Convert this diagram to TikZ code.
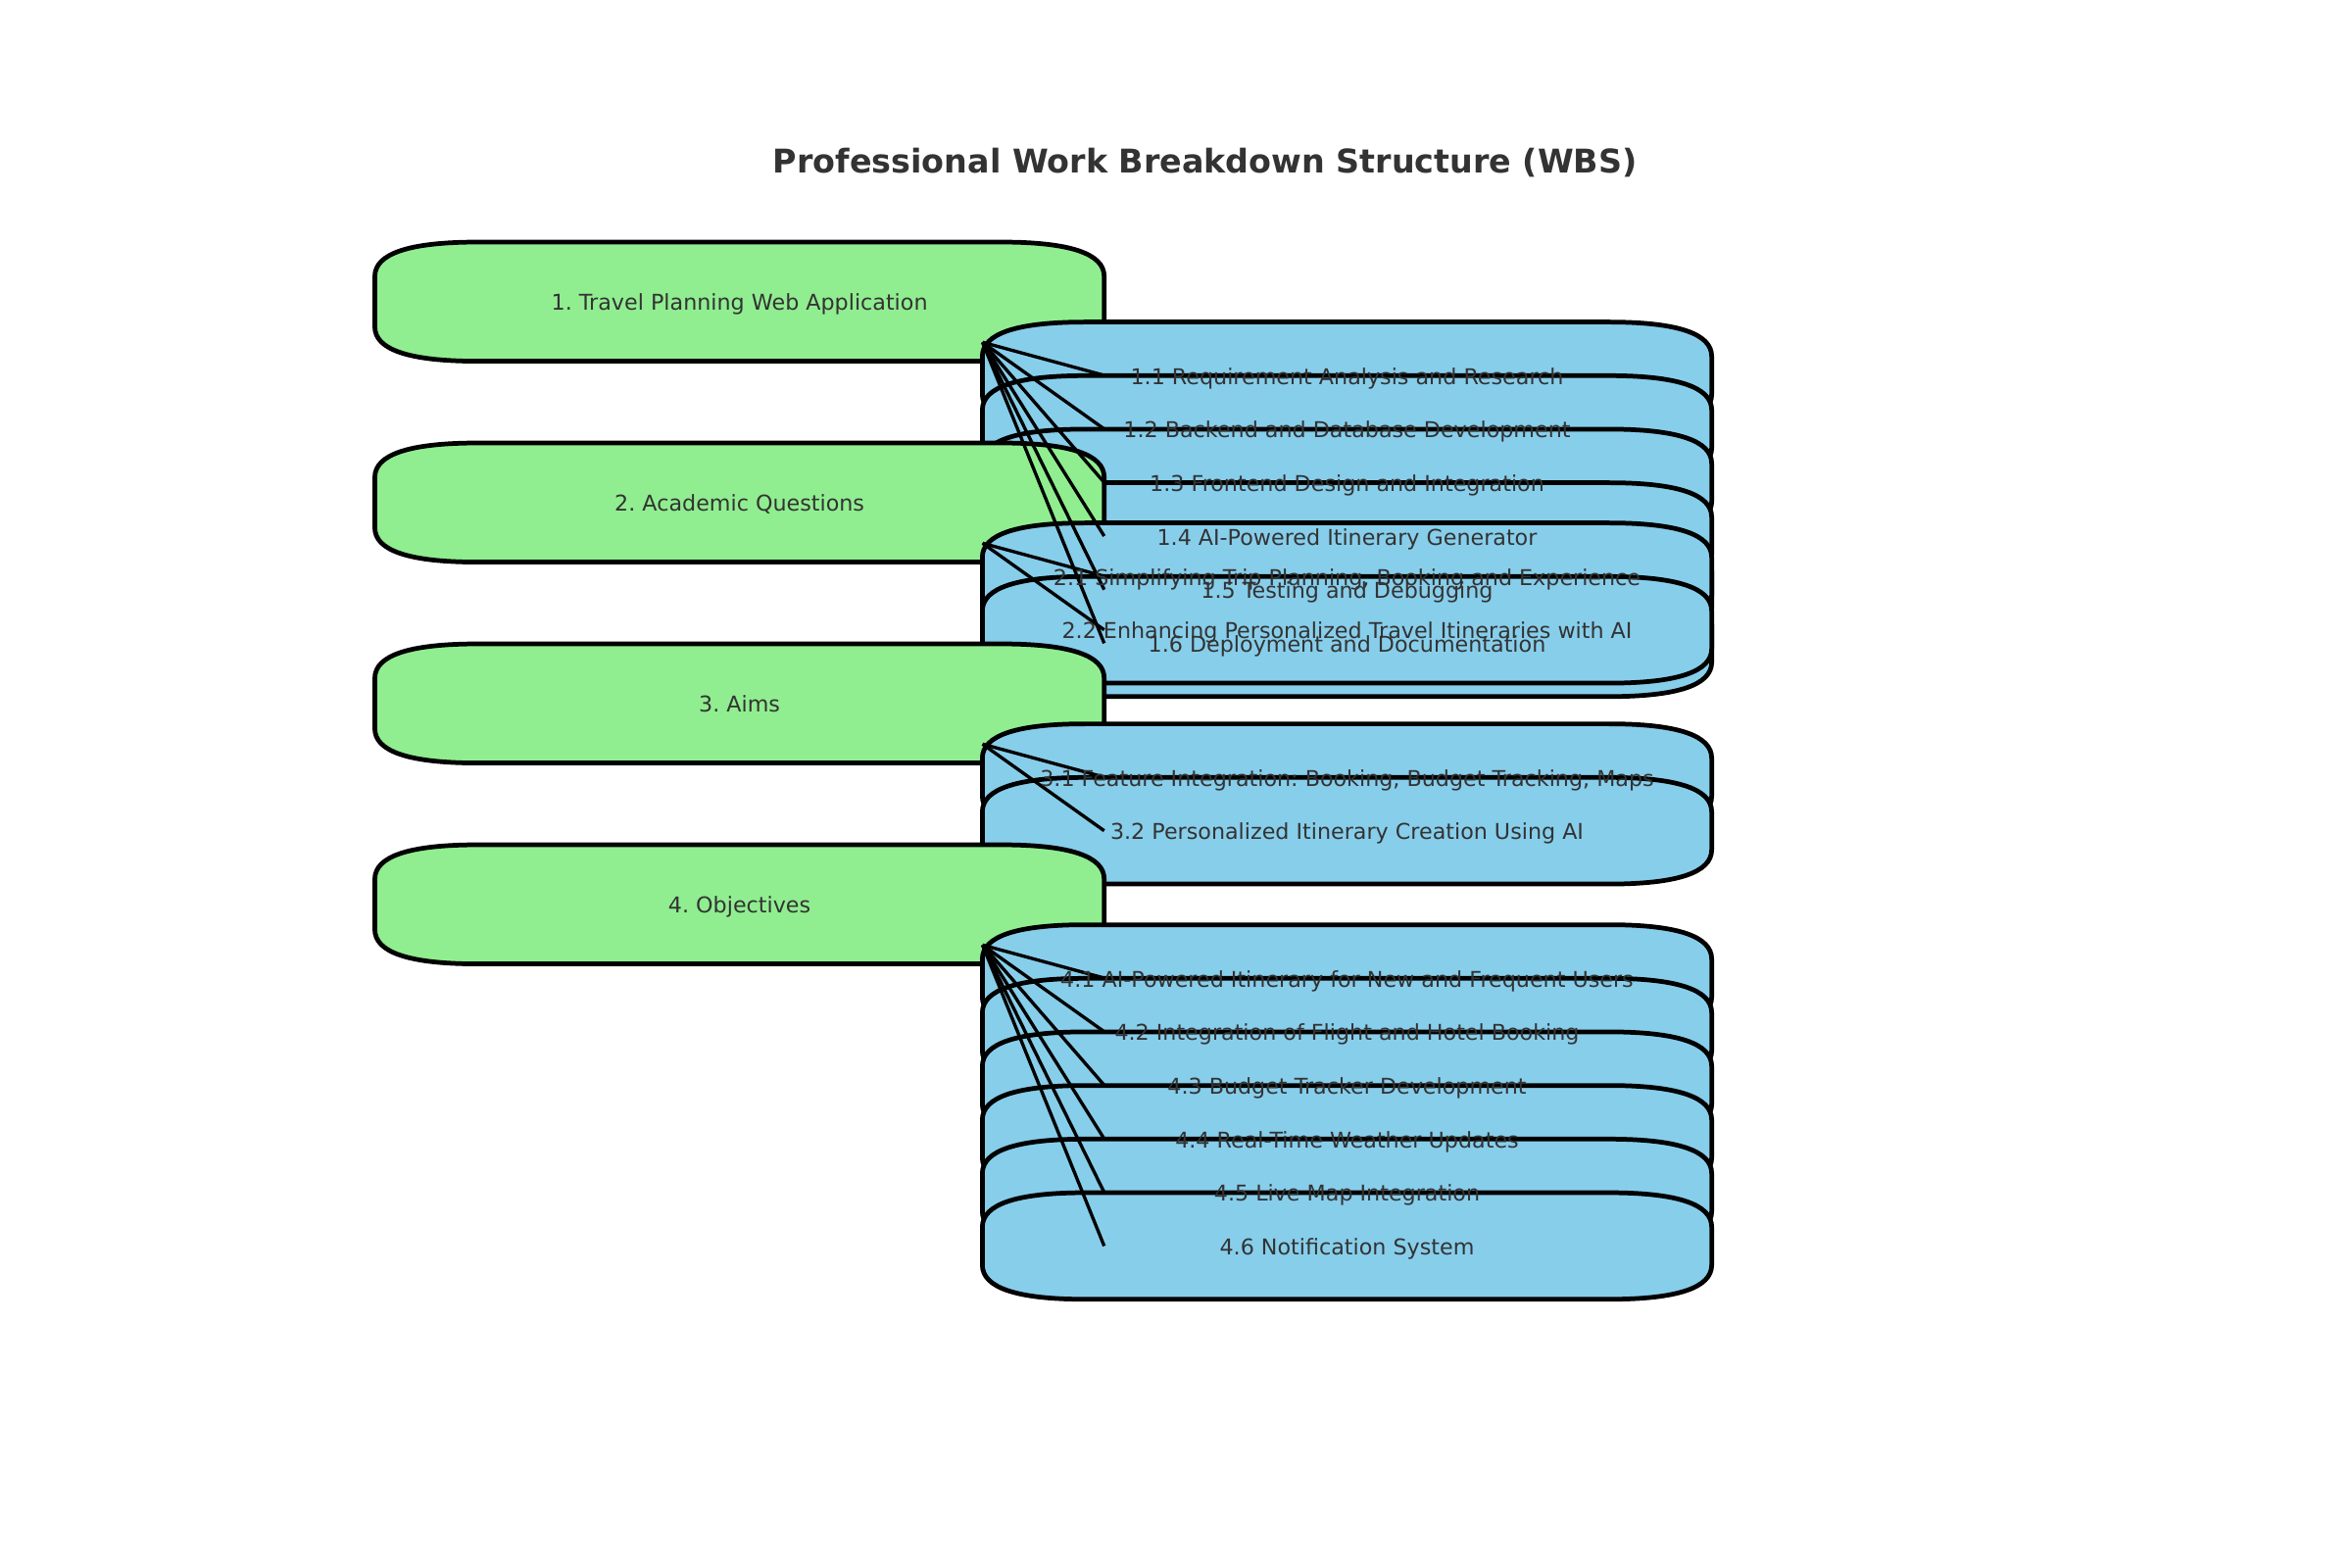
\documentclass[tikz,border=0pt]{standalone}
\usepackage{fontspec}
\setmainfont{DejaVu Sans}
\frenchspacing
\definecolor{wbsgreen}{HTML}{90EE90}
\definecolor{wbsblue}{HTML}{87CEEB}
\definecolor{wbstxt}{HTML}{333333}
\pgfdeclarelayer{boxes}
\pgfdeclarelayer{links}
\pgfsetlayers{boxes,links,main}
\tikzset{
  lbl/.style={inner sep=0pt, outer sep=0pt, minimum width=7.438cm, text=wbstxt,
    font=\fontsize{6.32pt}{7.6pt}\selectfont\frenchspacing, text height=5.4pt, text depth=0.28pt},
  parentbox/.style={lbl, minimum height=1.215cm},
  childbox/.style={lbl, minimum height=1.087cm},
  boxline/.style={draw=black, line width=1.35pt, line join=round},
  link/.style={draw=black, line width=0.95pt},
  titletext/.style={font=\fontsize{9.48pt}{11.4pt}\selectfont\bfseries, text=wbstxt, inner sep=0pt}
}
\newcommand\wbsshape[2]{%
  \draw[boxline, fill=#2]
  ([xshift=1.05cm]#1.south west) -- ([xshift=-1.05cm]#1.south east)
  .. controls ([xshift=-0.35cm]#1.south east) and ([yshift=0.117cm]#1.south east) .. ([yshift=0.35cm]#1.south east)
  -- ([yshift=-0.35cm]#1.north east)
  .. controls ([yshift=-0.117cm]#1.north east) and ([xshift=-0.35cm]#1.north east) .. ([xshift=-1.05cm]#1.north east)
  -- ([xshift=1.05cm]#1.north west)
  .. controls ([xshift=0.35cm]#1.north west) and ([yshift=-0.117cm]#1.north west) .. ([yshift=-0.35cm]#1.north west)
  -- ([yshift=0.35cm]#1.south west)
  .. controls ([yshift=0.117cm]#1.south west) and ([xshift=0.35cm]#1.south west) .. ([xshift=1.05cm]#1.south west)
  -- cycle;}
\begin{document}
\begin{tikzpicture}[x=0.01cm, y=-0.01cm]
\useasboundingbox (0,0) rectangle (2400,1600);

\node[titletext, anchor=base] (title) at (1229.8,177) {Professional Work Breakdown Structure (WBS)};

% group 1
\node[parentbox] (g1) at (754.6,307.8) {1. Travel Planning Web Application};
\node[childbox] (c11) at (1374.5,383.0) {1.1 Requirement Analysis and Research};
\node[childbox] (c12) at (1374.5,437.7) {1.2 Backend and Database Development};
\node[childbox] (c13) at (1374.5,492.3) {1.3 Frontend Design and Integration};
\node[childbox] (c14) at (1374.5,547.0) {1.4 AI-Powered Itinerary Generator};
\node[childbox] (c15) at (1374.5,601.7) {1.5 Testing and Debugging};
\node[childbox] (c16) at (1374.5,656.4) {1.6 Deployment and Documentation};
% group 2
\node[parentbox] (g2) at (754.6,512.8) {2. Academic Questions};
\node[childbox] (c21) at (1374.5,588.0) {2.1 Simplifying Trip Planning, Booking and Experience};
\node[childbox] (c22) at (1374.5,642.7) {2.2 Enhancing Personalized Travel Itineraries with AI};
% group 3
\node[parentbox] (g3) at (754.6,717.8) {3. Aims};
\node[childbox] (c31) at (1374.5,793.0) {3.1 Feature Integration: Booking, Budget Tracking, Maps};
\node[childbox] (c32) at (1374.5,847.7) {3.2 Personalized Itinerary Creation Using AI};
% group 4
\node[parentbox] (g4) at (754.6,922.8) {4. Objectives};
\node[childbox] (c41) at (1374.5,998.0) {4.1 AI-Powered Itinerary for New and Frequent Users};
\node[childbox] (c42) at (1374.5,1052.7) {4.2 Integration of Flight and Hotel Booking};
\node[childbox] (c43) at (1374.5,1107.3) {4.3 Budget Tracker Development};
\node[childbox] (c44) at (1374.5,1162.0) {4.4 Real-Time Weather Updates};
\node[childbox] (c45) at (1374.5,1216.7) {4.5 Live Map Integration};
\node[childbox] (c46) at (1374.5,1271.4) {4.6 Notification System};

\coordinate (g1out) at (1002.6,349.3);
\coordinate (g2out) at (1002.6,554.3);
\coordinate (g3out) at (1002.6,759.3);
\coordinate (g4out) at (1002.6,964.3);

\begin{pgfonlayer}{boxes}
\fill[white] (0,0) rectangle (2400,1600);
\wbsshape{g1}{wbsgreen}
\wbsshape{c11}{wbsblue}
\wbsshape{c12}{wbsblue}
\wbsshape{c13}{wbsblue}
\wbsshape{c14}{wbsblue}
\wbsshape{c15}{wbsblue}
\wbsshape{c16}{wbsblue}
\wbsshape{g2}{wbsgreen}
\wbsshape{c21}{wbsblue}
\wbsshape{c22}{wbsblue}
\wbsshape{g3}{wbsgreen}
\wbsshape{c31}{wbsblue}
\wbsshape{c32}{wbsblue}
\wbsshape{g4}{wbsgreen}
\wbsshape{c41}{wbsblue}
\wbsshape{c42}{wbsblue}
\wbsshape{c43}{wbsblue}
\wbsshape{c44}{wbsblue}
\wbsshape{c45}{wbsblue}
\wbsshape{c46}{wbsblue}
\end{pgfonlayer}

\begin{pgfonlayer}{links}
\foreach \c in {c11,c12,c13,c14,c15,c16} \draw[link] (g1out) -- (g1.east |- \c.center);
\foreach \c in {c21,c22} \draw[link] (g2out) -- (g2.east |- \c.center);
\foreach \c in {c31,c32} \draw[link] (g3out) -- (g3.east |- \c.center);
\foreach \c in {c41,c42,c43,c44,c45,c46} \draw[link] (g4out) -- (g4.east |- \c.center);
\end{pgfonlayer}
\end{tikzpicture}
\end{document}
